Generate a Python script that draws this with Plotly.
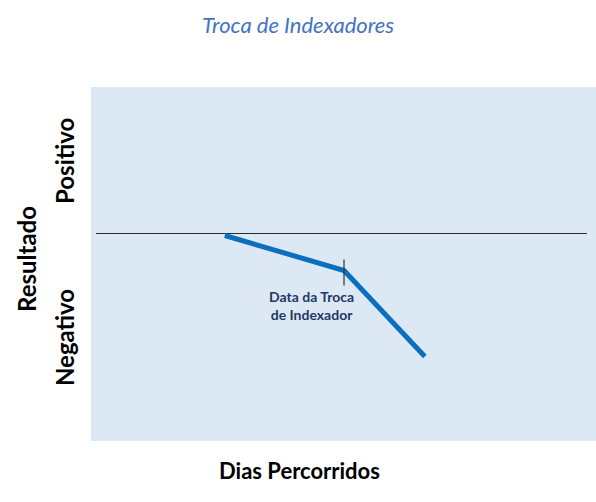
import plotly.graph_objects as go

# dias percorridos (x) e resultado (y), em unidades arbitrárias
dias = [26.5, 50.1, 66.1]
resultado = [-2, -37, -123]

# linha do zero
zero_x = [1, 98.2]
zero_y = [0, 0]

# marca da data da troca
troca_x = [50.1, 50.1]
troca_y = [-26, -52]
troca_label = "Data da Troca<br>de Indexador"

W, H = 596, 502
L, R, T, B = 91, 0, 87, 61
pw, ph = W - L - R, H - T - B


def px(x):
    return (x - L) / pw


def py(y):
    return (H - B - y) / ph


fig = go.Figure()
fig.add_trace(go.Scatter(x=zero_x, y=zero_y, mode='lines',
                         line=dict(color='#2b2b2b', width=1.2), hoverinfo='skip'))
fig.add_trace(go.Scatter(x=dias, y=resultado, mode='lines',
                         line=dict(color='#0B6FC0', width=5)))
fig.add_trace(go.Scatter(x=troca_x, y=troca_y, mode='lines',
                         line=dict(color='#333333', width=1.2), hoverinfo='skip'))

ann = dict(showarrow=False, xanchor='center', yanchor='middle')
fig.add_annotation(x=troca_x[0] - 6.5, y=-72, text='<b>' + troca_label + '</b>',
                   font=dict(family='Lato', size=14, color='#1F3864'), align='center', **ann)
fig.add_annotation(text='<i>Troca de Indexadores</i>', xref='paper', yref='paper',
                   x=px(298), y=py(24), font=dict(family='Lato', size=22, color='#4472C4'), **ann)
fig.add_annotation(text='<b>Dias Percorridos</b>', xref='paper', yref='paper',
                   x=px(299), y=py(470), font=dict(family='Lato', size=22, color='black'), **ann)
fig.add_annotation(text='<b>Resultado</b>', xref='paper', yref='paper', textangle=-90,
                   x=px(26), y=py(259), font=dict(family='Lato', size=24, color='black'), **ann)
fig.add_annotation(text='<b>Positivo</b>', xref='paper', yref='paper', textangle=-90,
                   x=px(64), y=py(161), font=dict(family='Lato', size=24, color='black'), **ann)
fig.add_annotation(text='<b>Negativo</b>', xref='paper', yref='paper', textangle=-90,
                   x=px(64), y=py(338), font=dict(family='Lato', size=24, color='black'), **ann)

fig.update_layout(
    width=W, height=H,
    margin=dict(l=L, r=R, t=T, b=B),
    paper_bgcolor='white', plot_bgcolor='#DDE8F5',
    showlegend=False,
    font=dict(family='Lato'),
    xaxis=dict(range=[0, 100], visible=False, fixedrange=True),
    yaxis=dict(range=[-207.5, 146.5], visible=False, fixedrange=True),
)

fig.write_html("out.html", config={'displayModeBar': False},
               post_script="document.body.style.margin='0';document.body.style.overflow='hidden';")
